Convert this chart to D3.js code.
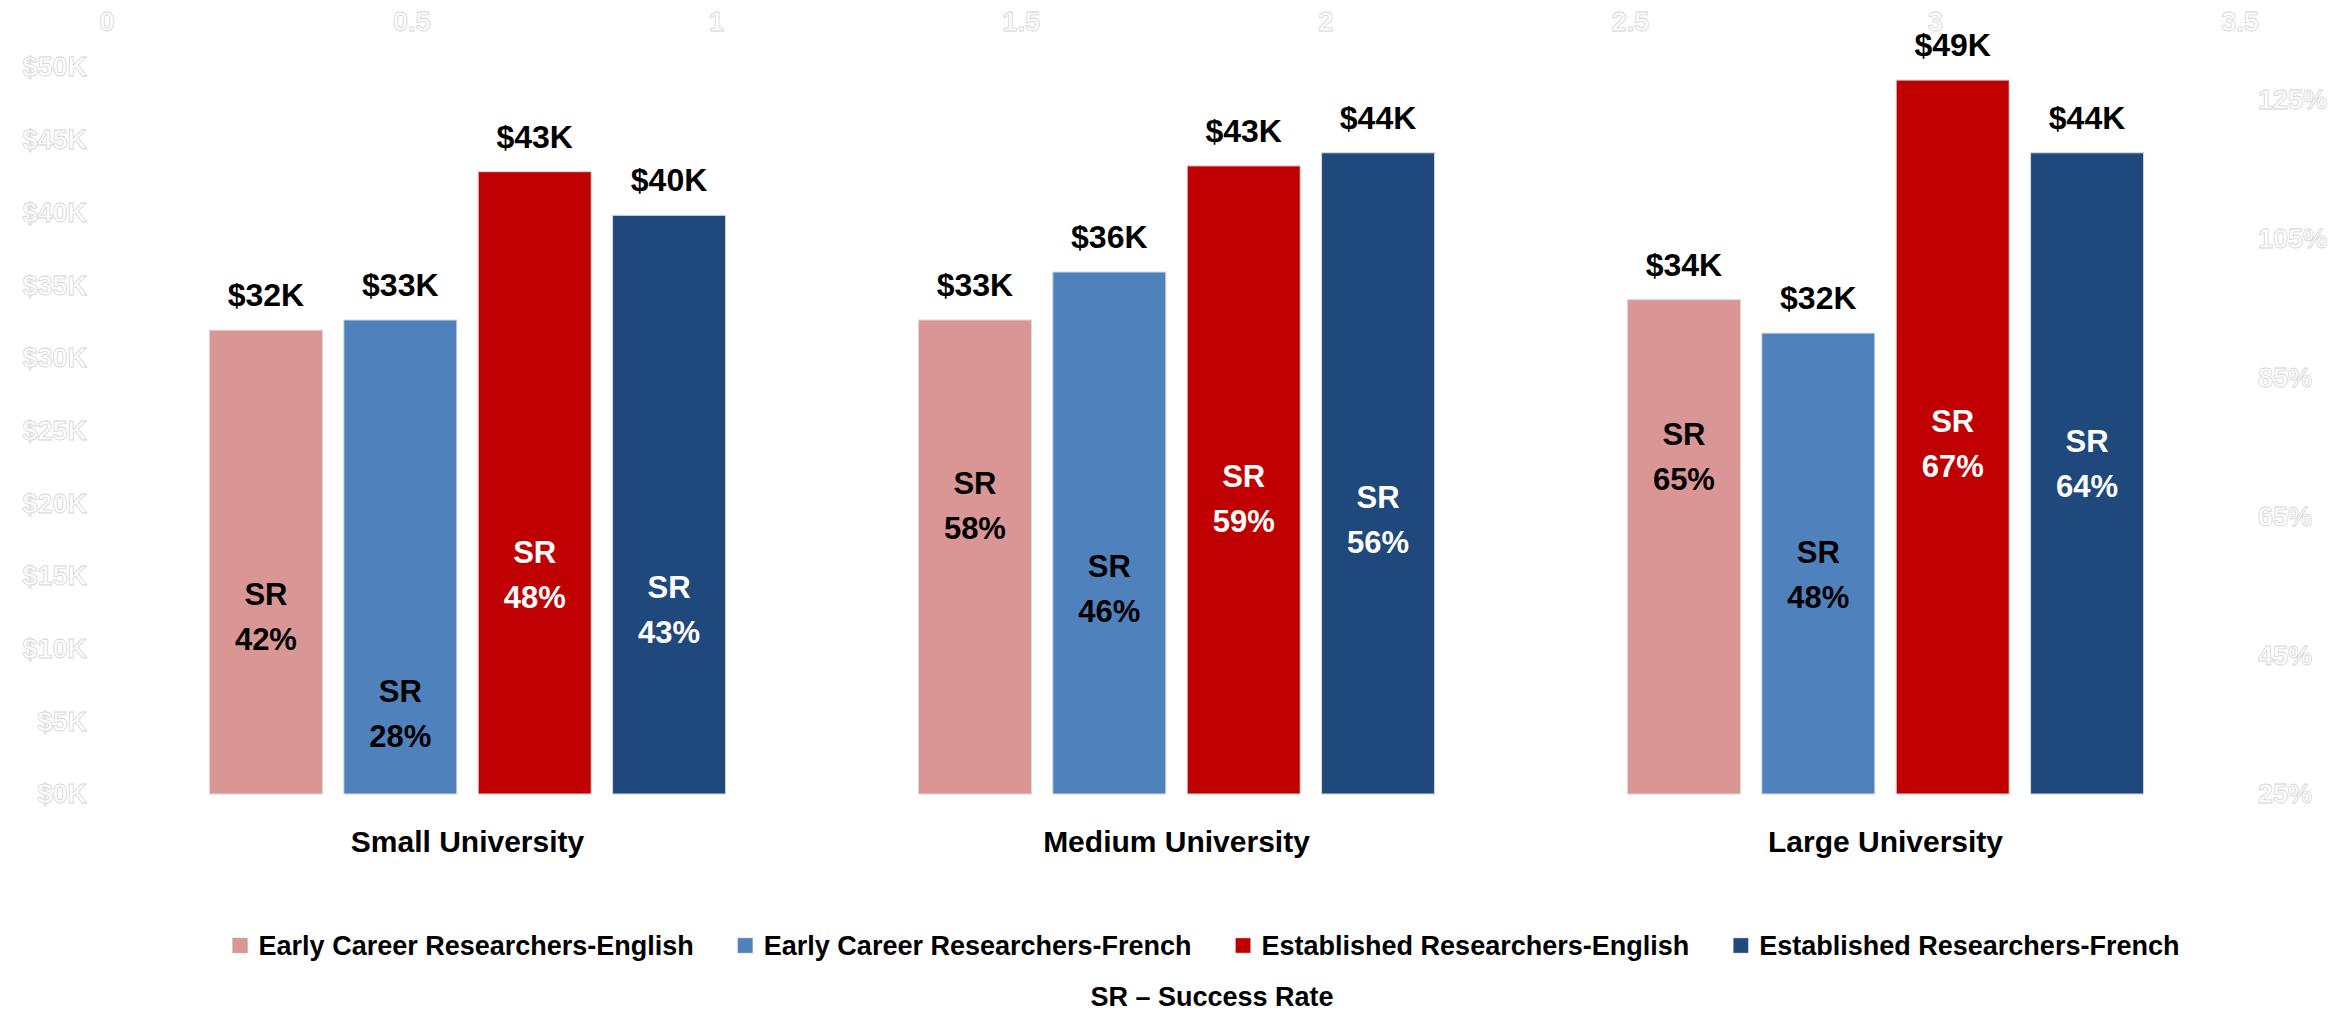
<!DOCTYPE html>
<html>
<head>
<meta charset="utf-8">
<script src="https://cdn.jsdelivr.net/npm/d3@7"></script>
<style>
  body { margin: 0; background: #fff; }
  text { font-family: "Liberation Sans", Arial, sans-serif; font-weight: bold; }
</style>
</head>
<body>
<div id="chart"></div>
<script>
// categories and series
const universities = ["Small University", "Medium University", "Large University"];
const seriesNames = [
  "Early Career Researchers-English",
  "Early Career Researchers-French",
  "Established Researchers-English",
  "Established Researchers-French"
];
const seriesColors = ["#DA9694", "#4F81BD", "#C00000", "#1F497D"];
const srTextColors = ["#000", "#000", "#fff", "#fff"];

// average funding, $K
const earlyEnglish = [31.9, 32.6, 34.0];
const earlyFrench = [32.6, 35.9, 31.7];
const estEnglish = [42.8, 43.2, 49.1];
const estFrench = [39.8, 44.1, 44.1];

// success rates, %
const srEarlyEnglish = [42, 58, 65];
const srEarlyFrench = [28, 46, 48];
const srEstEnglish = [48, 59, 67];
const srEstFrench = [43, 56, 64];

// tick labels
const leftTicks = [0, 5, 10, 15, 20, 25, 30, 35, 40, 45, 50];
const rightTicks = [25, 45, 65, 85, 105, 125];
const topTicks = [0, 0.5, 1, 1.5, 2, 2.5, 3, 3.5];

const fundingSeries = [earlyEnglish, earlyFrench, estEnglish, estFrench];
const srSeries = [srEarlyEnglish, srEarlyFrench, srEstEnglish, srEstFrench];

const W = 2349, H = 1011;
const plot = { left: 113, right: 2240, top: 67, bottom: 794 };

const svg = d3.select("#chart").append("svg")
    .attr("width", W)
    .attr("height", H);

const x0 = d3.scaleBand()
    .domain(universities)
    .range([plot.left, plot.right])
    .paddingInner(0.272)
    .paddingOuter(0.136);

const x1 = d3.scaleBand()
    .domain(d3.range(seriesNames.length))
    .range([0, x0.bandwidth()])
    .paddingInner(0.159)
    .paddingOuter(0);

const y = d3.scaleLinear().domain([0, 50]).range([plot.bottom, plot.top]);
const ySR = d3.scaleLinear().domain([25, 125]).range([794, 100]);
const xTop = d3.scaleLinear().domain([0, 3.5]).range([plot.left - 6, plot.right]);

// faint (white, outlined) axes like the original
const ghost = sel => sel
    .attr("fill", "#fff")
    .attr("stroke", "#d4d4d4")
    .attr("stroke-width", 0.8)
    .style("font-size", "27px");

svg.append("g").selectAll("text")
  .data(leftTicks)
  .enter().append("text")
    .attr("x", 87)
    .attr("y", d => y(d))
    .attr("dy", "0.35em")
    .attr("text-anchor", "end")
    .text(d => "$" + d + "K")
    .call(ghost);

svg.append("g").selectAll("text")
  .data(rightTicks)
  .enter().append("text")
    .attr("x", 2258)
    .attr("y", d => ySR(d))
    .attr("dy", "0.35em")
    .attr("text-anchor", "start")
    .text(d => d + "%")
    .call(ghost);

svg.append("g").selectAll("text")
  .data(topTicks)
  .enter().append("text")
    .attr("x", d => xTop(d))
    .attr("y", 22)
    .attr("dy", "0.35em")
    .attr("text-anchor", "middle")
    .text(d => d3.format("~g")(d))
    .call(ghost);

// rows: one per (university, series)
const rows = [];
universities.forEach((u, i) => {
  seriesNames.forEach((s, j) => {
    rows.push({ uni: u, s: j, value: fundingSeries[j][i], sr: srSeries[j][i] });
  });
});

const bars = svg.append("g").selectAll("g")
  .data(rows)
  .enter().append("g")
    .attr("transform", d => `translate(${x0(d.uni) + x1(d.s)},0)`);

bars.append("rect")
    .attr("x", 0)
    .attr("y", d => y(d.value))
    .attr("width", x1.bandwidth())
    .attr("height", d => y(0) - y(d.value))
    .attr("fill", d => seriesColors[d.s])
    .attr("stroke", "#d9d9d9")
    .attr("stroke-width", 1);

// value labels above bars
bars.append("text")
    .attr("x", x1.bandwidth() / 2)
    .attr("y", d => y(d.value) - 24)
    .attr("text-anchor", "middle")
    .style("font-size", "32px")
    .attr("fill", "#000")
    .text(d => "$" + Math.round(d.value) + "K");

// success rate labels inside bars
bars.append("text")
    .attr("x", x1.bandwidth() / 2)
    .attr("y", d => ySR(d.sr) - 71)
    .attr("text-anchor", "middle")
    .style("font-size", "31px")
    .attr("fill", d => srTextColors[d.s])
    .text("SR");

bars.append("text")
    .attr("x", x1.bandwidth() / 2)
    .attr("y", d => ySR(d.sr) - 26)
    .attr("text-anchor", "middle")
    .style("font-size", "31px")
    .attr("fill", d => srTextColors[d.s])
    .text(d => d.sr + "%");

// category labels
svg.append("g").selectAll("text")
  .data(universities)
  .enter().append("text")
    .attr("x", d => x0(d) + x0.bandwidth() / 2)
    .attr("y", 852)
    .attr("text-anchor", "middle")
    .style("font-size", "30px")
    .attr("fill", "#000")
    .text(d => d);

// legend
const legend = svg.append("g");
const items = legend.selectAll("g")
  .data(seriesNames)
  .enter().append("g");

items.append("rect")
    .attr("x", 0)
    .attr("y", 938)
    .attr("width", 15)
    .attr("height", 15)
    .attr("fill", (d, i) => seriesColors[i])
    .attr("stroke", "#bbb")
    .attr("stroke-width", 0.5);

items.append("text")
    .attr("x", 26)
    .attr("y", 955)
    .style("font-size", "27px")
    .attr("fill", "#000")
    .text(d => d);

const gap = 44;
let cursor = 0;
const offsets = [];
items.each(function() {
  offsets.push(cursor);
  cursor += this.getBBox().width + gap;
});
const totalW = cursor - gap;
const legendStart = 1206 - totalW / 2;
items.attr("transform", (d, i) => `translate(${legendStart + offsets[i]},0)`);

svg.append("text")
    .attr("x", 1212)
    .attr("y", 1006)
    .attr("text-anchor", "middle")
    .style("font-size", "27px")
    .attr("fill", "#000")
    .text("SR \u2013 Success Rate");
</script>
</body>
</html>
